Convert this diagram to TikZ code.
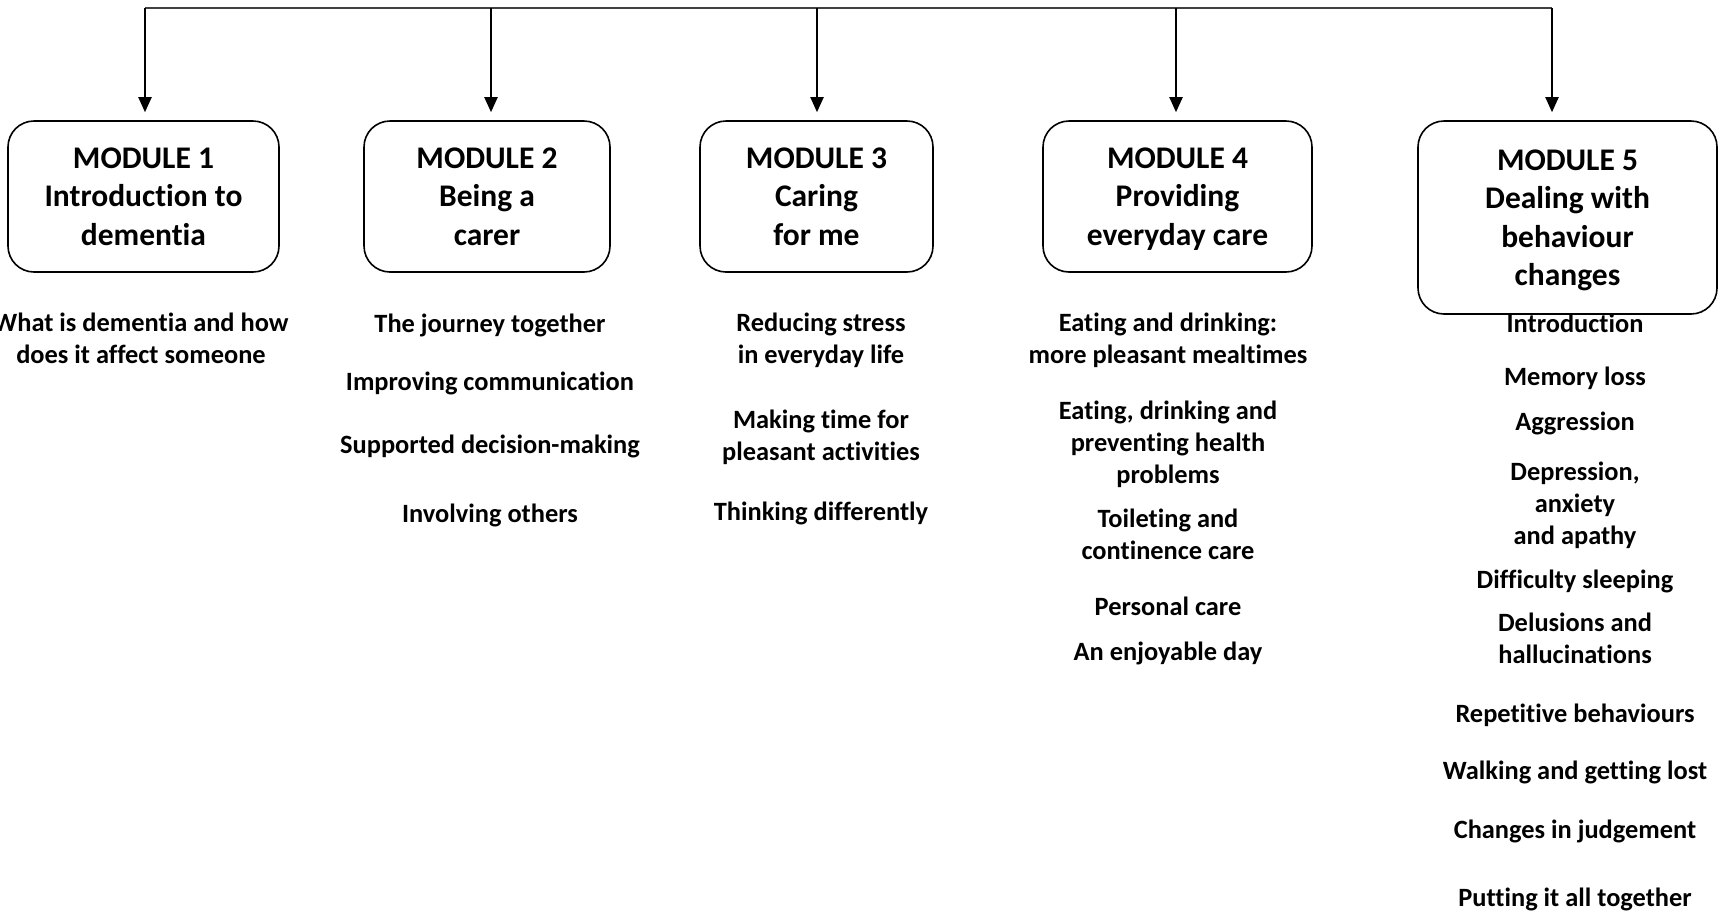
\documentclass[tikz,border=0pt]{standalone}
\usepackage{fontspec}
\setmainfont[Ligatures=NoCommon]{Carlito}
\usetikzlibrary{arrows.meta, positioning}

\begin{document}
\begin{tikzpicture}[
  x=1pt, y=-1pt,
  module/.style={rectangle, rounded corners=26pt, draw=black, line width=1.6pt, align=center, text depth=0pt, font=\fontsize{31.5}{38.5}\selectfont\bfseries},
  topic/.style={align=center, anchor=base, font=\fontsize{26.4}{32}\selectfont\bfseries},
  arr/.style={-{Triangle[length=15pt, width=13pt]}, line width=2pt, shorten >=8pt},
  bar/.style={line width=1.3pt, color=black!75},
]
\useasboundingbox (0,0) rectangle (1718,914);

% module boxes
\node[module, minimum width=271pt, minimum height=151pt] (m1) at (143.5,196.5) {MODULE 1\\Introduction to\\dementia};
\node[module, minimum width=246pt, minimum height=151pt] (m2) at (487,196.5) {MODULE 2\\Being a\\carer};
\node[module, minimum width=233pt, minimum height=151pt] (m3) at (816.5,196.5) {MODULE 3\\Caring\\for me};
\node[module, minimum width=269pt, minimum height=151pt] (m4) at (1177.5,196.5) {MODULE 4\\Providing\\everyday care};
\node[module, minimum width=299pt, minimum height=193pt] (m5) at (1567.5,217.5) {MODULE 5\\Dealing with\\behaviour\\changes};

% top bar and arrows
\coordinate (c1) at (145,8);
\coordinate (c2) at (491,8);
\coordinate (c3) at (817,8);
\coordinate (c4) at (1176,8);
\coordinate (c5) at (1552,8);
\draw[bar] (c1) -- (c5);
\draw[arr] (c1) -- (c1 |- m1.north);
\draw[arr] (c2) -- (c2 |- m2.north);
\draw[arr] (c3) -- (c3 |- m3.north);
\draw[arr] (c4) -- (c4 |- m4.north);
\draw[arr] (c5) -- (c5 |- m5.north);

% topics of module 1 (base = last line)
\node[topic] (t11) at (141,363) {What is dementia and how\\does it affect someone};

% topics of module 2
\node[topic] (t21) at (490,332) {The journey together};
\node[topic] (t22) at (490,390) {Improving communication};
\node[topic] (t23) at (490,453) {Supported decision-making};
\node[topic] (t24) at (490,522) {Involving others};

% topics of module 3
\node[topic] (t31) at (821,363) {Reducing stress\\in everyday life};
\node[topic] (t32) at (821,460) {Making time for\\pleasant activities};
\node[topic] (t33) at (821,520) {Thinking differently};

% topics of module 4
\node[topic] (t41) at (1168,363) {Eating and drinking:\\more pleasant mealtimes};
\node[topic] (t42) at (1168,483) {Eating, drinking and\\preventing health\\problems};
\node[topic] (t43) at (1168,559) {Toileting and\\continence care};
\node[topic] (t44) at (1168,615) {Personal care};
\node[topic] (t45) at (1168,660) {An enjoyable day};

% topics of module 5
\node[topic] (t51) at (1575,332) {Introduction};
\node[topic] (t52) at (1575,385) {Memory loss};
\node[topic] (t53) at (1575,430) {Aggression};
\node[topic] (t54) at (1575,544) {Depression,\\anxiety\\and apathy};
\node[topic] (t55) at (1575,588) {Difficulty sleeping};
\node[topic] (t56) at (1575,663) {Delusions and\\hallucinations};
\node[topic] (t57) at (1575,722) {Repetitive behaviours};
\node[topic] (t58) at (1575,779) {Walking and getting lost};
\node[topic] (t59) at (1575,838) {Changes in judgement};
\node[topic] (t510) at (1575,906) {Putting it all together};
\end{tikzpicture}
\end{document}
